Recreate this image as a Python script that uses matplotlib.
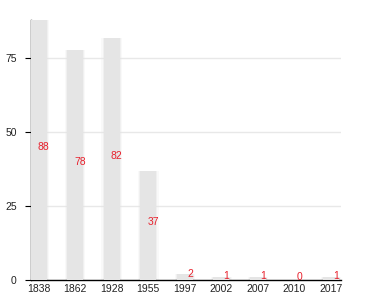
import numpy as np
import matplotlib.pyplot as plt

plt.rcParams['font.family'] = ['Liberation Sans', 'DejaVu Sans']

years = ['1838', '1862', '1928', '1955', '1997', '2002', '2007', '2010', '2017']
counts = [88, 78, 82, 37, 2, 1, 1, 0, 1]
yticks = [0, 25, 50, 75]

fig = plt.figure(figsize=(3.8, 3.0), dpi=100)
ax = fig.add_axes([30.5/380, 20/300, (341-30.5)/380, 260/300])

x = np.arange(len(years))
# soft shadow behind bars
for w, a in [(0.56, 0.2), (0.50, 0.4)]:
    ax.bar(x, counts, width=w, color='#e4e4e4', alpha=a, zorder=2, linewidth=0)
ax.bar(x, counts, width=0.44, color='#e5e5e5', zorder=3, linewidth=0)

for xi, v in zip(x, counts):
    ax.text(xi + 0.14, v / 2 + 1.0, str(v), color='#e8202c', fontsize=7.5,
            ha='center', va='center', zorder=4)

ax.set_xlim(-0.22, 8.27)
ax.set_ylim(0, 88)
ax.set_yticks(yticks)
ax.set_xticks(x)
ax.set_xticklabels(years)
ax.yaxis.grid(True, color='#e8e8e8', linewidth=1, zorder=1)
ax.set_axisbelow(True)

for s in ['top', 'right']:
    ax.spines[s].set_visible(False)
ax.spines['left'].set_linewidth(1)
ax.spines['bottom'].set_linewidth(1)
ax.tick_params(axis='x', length=0, pad=3, labelsize=7.5, labelcolor='#222222')
ax.tick_params(axis='y', length=4, width=0.8, pad=6, labelsize=7.5, labelcolor='#222222')

fig.savefig('out.png', dpi=100)
